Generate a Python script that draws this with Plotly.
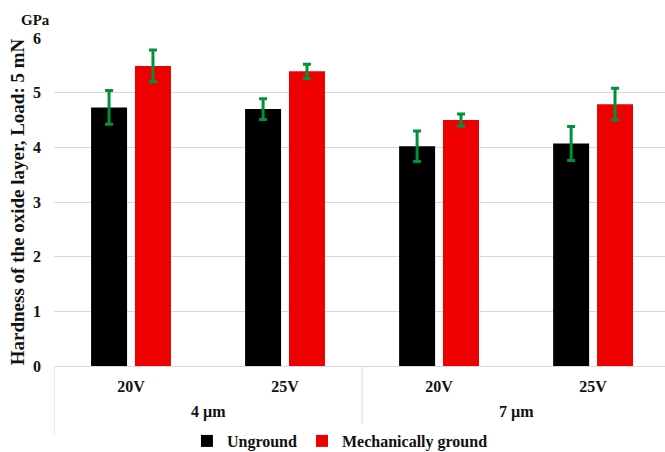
import plotly.graph_objects as go

thickness = ["4 µm", "4 µm", "7 µm", "7 µm"]
voltage = ["20V", "25V", "20V", "25V"]
unground = [4.73, 4.70, 4.02, 4.07]
unground_err = [0.31, 0.19, 0.28, 0.31]
ground = [5.49, 5.39, 4.50, 4.79]
ground_err = [0.29, 0.13, 0.11, 0.29]
groups = ["4 µm", "7 µm"]

FONT = "Liberation Serif, Times New Roman, serif"
ERR = "#00913A"
TXT = "#111111"
GRID = "#D9D9D9"

cats = [f"{t} | {v}" for t, v in zip(thickness, voltage)]

fig = go.Figure()
fig.add_trace(go.Bar(
    x=cats, y=unground, name="Unground",
    marker=dict(color="#000000", line=dict(width=0)),
    error_y=dict(type="data", array=unground_err, color=ERR, thickness=3, width=4),
))
fig.add_trace(go.Bar(
    x=cats, y=ground, name="Mechanically ground",
    marker=dict(color="#EE0000", line=dict(width=0)),
    error_y=dict(type="data", array=ground_err, color=ERR, thickness=3, width=4),
))

H_PLOT = 452 - 38 - 86

def py(pix):
    return (366 - pix) / H_PLOT

fig.update_layout(
    width=665, height=452,
    margin=dict(l=54, r=0, t=38, b=86, autoexpand=False),
    paper_bgcolor="white", plot_bgcolor="white",
    barmode="group", bargap=0.43, bargroupgap=0.18,
    font=dict(family=FONT, size=16, color=TXT, weight="bold"),
    showlegend=True,
    legend=dict(orientation="h", x=0.468, xanchor="center", y=py(441), yanchor="middle",
                font=dict(family=FONT, size=16, color=TXT, weight="bold"),
                itemwidth=30, traceorder="normal"),
    xaxis=dict(
        type="category", automargin=False,
        range=[-0.5, 3.467],
        tickvals=cats, ticktext=voltage,
        showline=True, linecolor=GRID, linewidth=1,
        showgrid=False, ticks="", ticklabelstandoff=6,
        tickfont=dict(family=FONT, size=16, color=TXT, weight="bold"),
    ),
    yaxis=dict(
        range=[0, 6], dtick=1, automargin=False,
        showgrid=True, gridcolor=GRID, gridwidth=1,
        zeroline=False, showline=False, ticks="", ticklabelstandoff=12,
        tickfont=dict(family=FONT, size=16, color=TXT, weight="bold"),
        title=dict(text="Hardness of the oxide layer, Load: 5 mN", standoff=3,
                   font=dict(family=FONT, size=19, color=TXT, weight="bold")),
    ),
)

# outer group labels and dividers of the two-level category axis
for i, g in enumerate(groups):
    fig.add_annotation(text=g, xref="x", yref="paper", x=2 * i + 0.5, y=py(412),
                       xanchor="center", yanchor="middle", showarrow=False,
                       font=dict(family=FONT, size=16, color=TXT, weight="bold"))
for xd in [-0.5, 1.5, 3.5]:
    fig.add_shape(type="line", xref="x", yref="paper", x0=xd, x1=xd, y0=0, y1=py(436),
                  line=dict(color=GRID, width=1))

fig.add_annotation(text="GPa", xref="paper", yref="paper", x=-0.0295, y=py(20),
                   xanchor="center", yanchor="middle", showarrow=False,
                   font=dict(family=FONT, size=15, color=TXT, weight="bold"))

fig.write_html("out.html", config={"displayModeBar": False},
               post_script="document.body.style.margin='0';document.body.style.overflow='hidden';")
